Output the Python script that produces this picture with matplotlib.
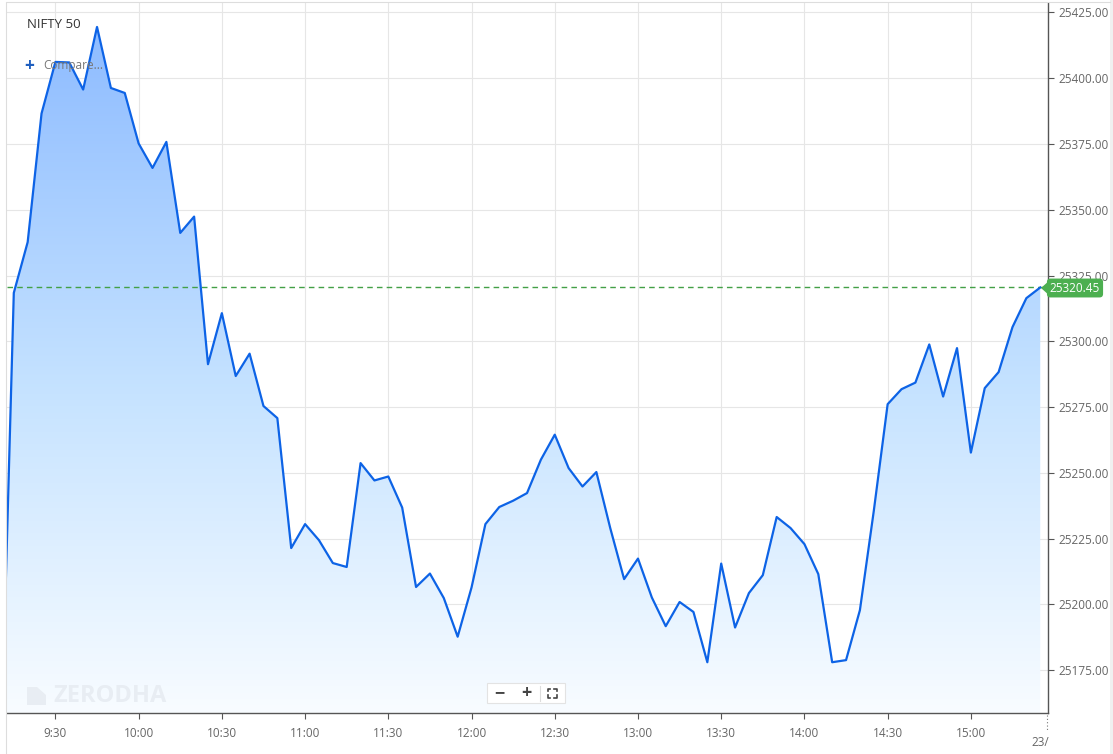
import matplotlib
matplotlib.use("Agg")
import matplotlib.pyplot as plt
from matplotlib.patches import FancyBboxPatch, Polygon
from matplotlib.lines import Line2D
import numpy as np
import pandas as pd

# NIFTY 50 intraday, 5 minute closes (first point is the pre-open print)
times = pd.date_range("2025-09-22 09:10", periods=76, freq="5min")
prices = [25128.0,
          25318.4, 25337.7, 25386.6, 25406.2, 25406.0, 25395.7, 25419.5, 25396.3,
          25394.4, 25375.2, 25365.9, 25375.8, 25341.2, 25347.4, 25291.3, 25310.7,
          25286.8, 25295.3, 25275.4, 25270.8, 25221.4, 25230.5, 25224.4, 25215.7,
          25214.2, 25253.7, 25247.1, 25248.6, 25236.8, 25206.6, 25211.7, 25202.4,
          25187.7, 25206.4, 25230.5, 25237.0, 25239.4, 25242.3, 25255.0, 25264.5,
          25251.8, 25244.8, 25250.3, 25229.0, 25209.6, 25217.4, 25202.6, 25191.7,
          25200.9, 25197.1, 25178.0, 25215.5, 25191.2, 25204.3, 25211.1, 25233.2,
          25229.0, 25222.9, 25211.5, 25178.0, 25178.8, 25197.8, 25235.5, 25276.1,
          25281.8, 25284.3, 25298.8, 25279.0, 25297.4, 25257.7, 25282.2, 25288.3,
          25305.4, 25316.4, 25320.45]
last_price = 25320.45

y_ticks = [25175, 25200, 25225, 25250, 25275, 25300, 25325, 25350, 25375, 25400, 25425]
x_tick_labels = ["9:30", "10:00", "10:30", "11:00", "11:30", "12:00",
                 "12:30", "13:00", "13:30", "14:00", "14:30", "15:00"]
x_ticks = pd.date_range("2025-09-22 09:30", periods=len(x_tick_labels), freq="30min")

W, H = 1113, 754
fig = plt.figure(figsize=(W / 100, H / 100), dpi=100)
plt.rcParams['font.family'] = ['Open Sans', 'DejaVu Sans']

ax = fig.add_axes([7 / W, (H - 713) / H, (1048 - 7) / W, (713 - 3) / H])
ax.set_facecolor("white")

x0 = pd.Timestamp("2025-09-22 09:15") - pd.Timedelta(minutes=2.45)
x1 = pd.Timestamp("2025-09-22 09:15") + pd.Timedelta(minutes=372.8)
ax.set_xlim(x0, x1)
ax.set_ylim(25158.7, 25428.6)

# gradient fill under the line
xs = matplotlib.dates.date2num(times)
ylo, yhi = ax.get_ylim()
c_top = np.array([138, 185, 255]) / 255
c_mid = np.array([198, 227, 255]) / 255
c_bot = np.array([248, 252, 255]) / 255
t = np.linspace(0, 1, 256)[:, None]
grad = np.where(t < 0.55,
                c_top * (1 - t / 0.55) + c_mid * (t / 0.55),
                c_mid * (1 - (t - 0.55) / 0.45) + c_bot * ((t - 0.55) / 0.45))
grad = grad[:, None, :]
xl = matplotlib.dates.date2num([x0, x1])
img = ax.imshow(grad, aspect="auto", extent=[xl[0], xl[1], ylo, yhi],
                origin="upper", zorder=1)
poly = Polygon(np.vstack([np.column_stack([xs, prices]),
                          [[xs[-1], ylo], [xs[0], ylo]]]),
               closed=True, facecolor="none", edgecolor="none")
ax.add_patch(poly)
img.set_clip_path(poly)

ax.plot(times, prices, color="#0d63e6", lw=1.6, zorder=3)
ax.axhline(last_price, color="#43a047", lw=1.0, ls=(0, (4, 3)), zorder=2)

ax.set_xticks(x_ticks)
ax.set_xticklabels(x_tick_labels)
ax.set_yticks(y_ticks)
ax.set_yticklabels([f"{v:.2f}" for v in y_ticks])
ax.yaxis.tick_right()
ax.grid(True, color="#e6e6e6", lw=0.8, zorder=0)
ax.set_axisbelow(True)
ax.tick_params(axis="both", colors="#555555", labelcolor="#666666", labelsize=8.5,
               length=4, width=0.8)
ax.tick_params(axis="x", pad=6)
for side in ["top", "left"]:
    ax.spines[side].set_visible(False)
for side in ["bottom", "right"]:
    ax.spines[side].set_color("#555555")
    ax.spines[side].set_linewidth(1.0)

# last price badge
fig.text(1075 / W, 1 - 288 / H, f"{last_price:.2f}", color="white", fontsize=8.5,
         ha="center", va="center",
         bbox=dict(boxstyle="round,pad=0.25,rounding_size=0.3", fc="#4caf50", ec="none"))
fig.patches.append(Polygon([[1041 / W, 1 - 288 / H], [1050 / W, 1 - 280 / H],
                            [1050 / W, 1 - 296 / H]], closed=True,
                           transform=fig.transFigure, fc="#4caf50", ec="none"))

# titles and controls
fig.text(27 / W, 1 - 25 / H, "NIFTY 50", color="#333333", fontsize=9.5, va="center")
fig.text(24 / W, 1 - 66 / H, "+", color="#1f5fbf", fontsize=12.5, va="center",
         fontweight="bold", zorder=5)
fig.text(43 / W, 1 - 66 / H, "Compare...", color="#777777", fontsize=8.5,
         va="center", zorder=5)
fig.text(53 / W, 1 - 696 / H, "ZERODHA", color="#e8edf3", fontsize=17,
         fontweight="bold", va="center", zorder=5)
fig.patches.append(Polygon([[27 / W, 1 - 687 / H], [37 / W, 1 - 687 / H],
                            [46 / W, 1 - 695 / H], [46 / W, 1 - 705 / H],
                            [27 / W, 1 - 705 / H]], closed=True,
                           transform=fig.transFigure, fc="#e8edf3", ec="none"))

fig.patches.append(FancyBboxPatch((487 / W, 1 - 703 / H), 78 / W, 20 / H,
                                  boxstyle="square,pad=0", transform=fig.transFigure,
                                  fc="white", ec="#e3e3e3", lw=0.8, zorder=5))
fig.text(499 / W, 1 - 693 / H, "\u2212", color="#444444", fontsize=13, ha="center",
         va="center", fontweight="bold", zorder=6)
fig.text(526 / W, 1 - 693 / H, "+", color="#444444", fontsize=13, ha="center",
         va="center", fontweight="bold", zorder=6)
fig.add_artist(Line2D([540 / W, 540 / W], [1 - 686 / H, 1 - 701 / H],
                      color="#dddddd", lw=0.8, transform=fig.transFigure, zorder=6))
cx, cy, r = 552, 693, 4.5
for sx in (-1, 1):
    for sy in (-1, 1):
        fig.add_artist(Line2D([(cx + sx * r) / W, (cx + sx * r) / W, (cx + sx * (r - 2.5)) / W],
                              [1 - (cy + sy * (r - 2.5)) / H, 1 - (cy + sy * r) / H,
                               1 - (cy + sy * r) / H],
                              color="#444444", lw=1.2, transform=fig.transFigure,
                              zorder=6))

# trailing date label and tick
fig.add_artist(Line2D([1047 / W, 1047 / W], [1 - 715 / H, 1 - 730 / H], color="#777777",
                      lw=0.8, ls=(0, (1, 2)), transform=fig.transFigure))
fig.text(1031 / W, 1 - 743 / H, "23/", color="#666666", fontsize=8.5, va="center")

# container border
fig.add_artist(Line2D([6 / W, 6 / W, 1110 / W], [0, 1 - 2 / H, 1 - 2 / H],
                      color="#dddddd", lw=0.8, transform=fig.transFigure))
fig.patches.append(FancyBboxPatch((1110 / W, 0), 3 / W, 1, boxstyle="square,pad=0",
                                  transform=fig.transFigure, fc="#f0f0f0", ec="none"))

fig.savefig("out.png", dpi=100)
